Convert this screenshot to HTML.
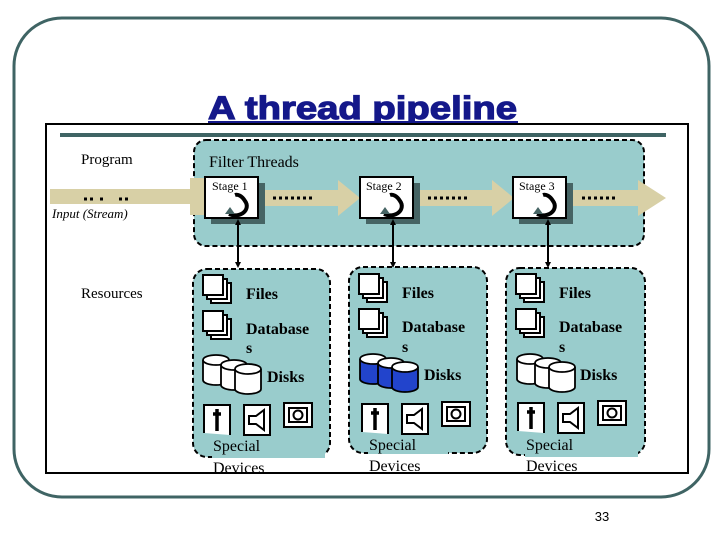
<!DOCTYPE html>
<html><head><meta charset="utf-8"><style>
html,body{margin:0;padding:0;background:#fff;}
svg{display:block;}
text{font-family:"Liberation Serif",serif;}
</style></head><body>
<svg width="720" height="540" viewBox="0 0 720 540" xmlns="http://www.w3.org/2000/svg">
<defs>
<g id="page"><rect x="8" y="8" width="20" height="20" fill="#fff" stroke="#000" stroke-width="2"/><rect x="4" y="4" width="20" height="20" fill="#fff" stroke="#000" stroke-width="2"/><rect x="0" y="0" width="20" height="20" fill="#fff" stroke="#000" stroke-width="2"/></g>
<g id="cyl"><path d="M0 5 v20 a13 5 0 0 0 26 0 v-20" fill="#fff" stroke="#000" stroke-width="1.8"/><ellipse cx="13" cy="5" rx="13" ry="5" fill="#fff" stroke="#000" stroke-width="1.8"/></g>
<g id="cylb"><path d="M0 5 v20 a13 5 0 0 0 26 0 v-20" fill="#2244cc" stroke="#000" stroke-width="1.8"/><ellipse cx="13" cy="5" rx="13" ry="5" fill="#fff" stroke="#000" stroke-width="1.8"/></g>
<g id="stage"><rect x="6" y="6" width="54" height="41" fill="#466464"/><rect x="0" y="0" width="53" height="41" fill="#fff" stroke="#000" stroke-width="2"/><path d="M24 37 C36 42 46 32 40 24 C37 19 33 17 30 18" fill="none" stroke="#000" stroke-width="4"/><path d="M20 37 l5 -7 l5 7z" fill="#466464"/></g>
<g id="devs"><path d="M0 30 v-28 h26 v30" fill="#fff" stroke="#000" stroke-width="2"/><path d="M13 6 v22 M9 11 h8" stroke="#000" stroke-width="3.5"/><rect x="40" y="2" width="26" height="30" fill="#fff" stroke="#000" stroke-width="2"/><path d="M45 13 h7 l8 -6 v20 l-8 -6 h-7z" fill="none" stroke="#000" stroke-width="2"/><rect x="80" y="0" width="28" height="24" fill="#fff" stroke="#000" stroke-width="2"/><rect x="85" y="5" width="18" height="14" fill="none" stroke="#000" stroke-width="2"/><circle cx="94" cy="12" r="4.5" fill="none" stroke="#000" stroke-width="2"/></g>
</defs>
<rect x="14" y="18" width="695" height="479" rx="48" fill="#fff" stroke="#3f6464" stroke-width="3"/>
<text x="208" y="119" textLength="309" lengthAdjust="spacingAndGlyphs" font-weight="900" font-size="32" fill="#14188a" stroke="#14188a" stroke-width="1.2" style="font-family:'Liberation Sans',sans-serif">A thread pipeline</text>
<rect x="208" y="121" width="310" height="3" fill="#14188a"/>
<rect x="46" y="124" width="642" height="349" fill="#fff" stroke="#000" stroke-width="2"/>
<rect x="60" y="133" width="606" height="4" fill="#3f6464"/>
<rect x="194" y="140" width="450" height="106" rx="12" fill="#99cccc" stroke="#000" stroke-width="2" stroke-dasharray="5,3"/>
<g fill="#d8d0a6">
<path d="M50 189 h140 v-11 h15 v37 h-15 v-11 h-140z"/>
<path d="M258 190 h80 v-10 l22 18 l-22 18 v-10 h-80z"/>
<path d="M412 190 h80 v-10 l22 18 l-22 18 v-10 h-80z"/>
<path d="M566 190 h72 v-10 l28 18 l-28 18 v-10 h-72z"/>
</g>
<g stroke="#000" stroke-width="3" stroke-dasharray="3,3"><path d="M84 199 h12 M100 199 h5 M119 199 h12"/><path d="M273 198 h40"/><path d="M428 198 h40"/><path d="M582 198 h36"/></g>
<text x="81" y="164" font-size="15">Program</text>
<text x="52" y="218" font-size="13" font-style="italic">Input (Stream)</text>
<text x="81" y="298" font-size="15">Resources</text>
<text x="209" y="167" font-size="16">Filter Threads</text>
<use href="#stage" x="205" y="177"/><use href="#stage" x="360" y="177"/><use href="#stage" x="513" y="177"/>
<g font-size="12"><text x="212" y="190">Stage 1</text><text x="366" y="190">Stage 2</text><text x="519" y="190">Stage 3</text></g>
<g stroke="#000" stroke-width="2"><path d="M238 222 v42"/><path d="M393 222 v42"/><path d="M548 222 v42"/></g>
<g fill="#000"><path d="M238 219 l-3 6 h6z M238 268 l-3 -6 h6z"/><path d="M393 219 l-3 6 h6z M393 268 l-3 -6 h6z"/><path d="M548 219 l-3 6 h6z M548 268 l-3 -6 h6z"/></g>
<g fill="#99cccc" stroke="#000" stroke-width="2" stroke-dasharray="5,3">
<rect x="193" y="269" width="137" height="188" rx="14"/>
<rect x="349" y="267" width="138" height="186" rx="14"/>
<rect x="506" y="268" width="139" height="187" rx="14"/>
</g>
<g fill="#99cccc"><rect x="212" y="438" width="113" height="20"/><rect x="368" y="437" width="80" height="17"/><rect x="525" y="437" width="113" height="20"/></g>
<use href="#page" x="203" y="275"/><use href="#page" x="203" y="311"/>
<use href="#page" x="359" y="274"/><use href="#page" x="359" y="309"/>
<use href="#page" x="516" y="274"/><use href="#page" x="516" y="309"/>
<use href="#cyl" x="203" y="355"/><use href="#cyl" x="221" y="360"/><use href="#cyl" x="235" y="364"/>
<use href="#cylb" x="360" y="354"/><use href="#cylb" x="378" y="358"/><use href="#cylb" x="392" y="362"/>
<use href="#cyl" x="517" y="354"/><use href="#cyl" x="535" y="358"/><use href="#cyl" x="549" y="362"/>
<use href="#devs" x="204" y="403"/><use href="#devs" x="362" y="402"/><use href="#devs" x="518" y="401"/>
<g font-size="16" font-weight="bold">
<text x="246" y="299">Files</text><text x="246" y="334">Database</text><text x="246" y="353">s</text><text x="267" y="382">Disks</text>
<text x="402" y="298">Files</text><text x="402" y="332">Database</text><text x="402" y="352">s</text><text x="424" y="380">Disks</text>
<text x="559" y="298">Files</text><text x="559" y="332">Database</text><text x="559" y="352">s</text><text x="580" y="380">Disks</text>
</g>
<g font-size="16">
<text x="213" y="451">Special</text><text x="213" y="473">Devices</text>
<text x="369" y="450">Special</text><text x="369" y="471">Devices</text>
<text x="526" y="450">Special</text><text x="526" y="471">Devices</text>
</g>
<text x="602" y="521" text-anchor="middle" font-size="13" style="font-family:'Liberation Sans',sans-serif">33</text>
</svg>
</body></html>
